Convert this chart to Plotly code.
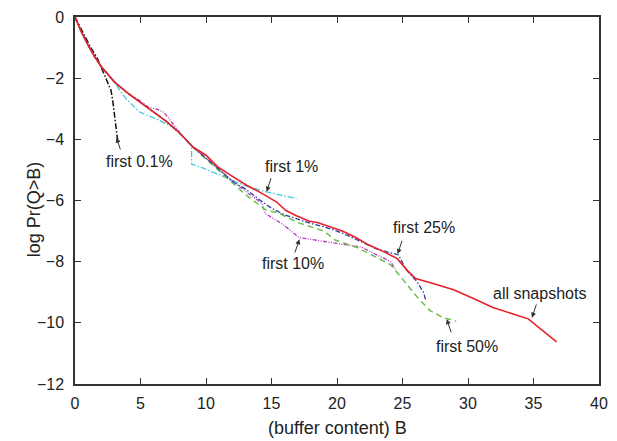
import plotly.graph_objects as go

# ---- data ----
common_x = [0, 0.5, 1, 1.5, 2, 3, 4, 5, 6, 7, 8, 9]
common_y = [0, -0.5, -0.92, -1.3, -1.62, -2.12, -2.48, -2.8, -3.1, -3.42, -3.8, -4.25]

all_x = [10, 10.9, 11.9, 13.1, 14.4, 15.4, 16.1, 16.9, 17.9, 18.5, 19.4, 20.4, 21.4, 22.4, 23.6, 24.6, 25.4, 26.0, 27.4, 28.9, 30.5, 31.9, 34.6, 36.76]
all_y = [-4.52, -4.9, -5.18, -5.5, -5.8, -6.05, -6.33, -6.5, -6.68, -6.72, -6.85, -7.0, -7.2, -7.45, -7.68, -7.9, -8.3, -8.55, -8.72, -8.92, -9.22, -9.5, -9.87, -10.62]

p25_x = [10, 11, 12, 13, 14, 15, 16, 17, 18, 19, 20, 21, 22, 23, 24, 24.7, 25.3, 26.1, 26.6, 26.8]
p25_y = [-4.62, -4.98, -5.38, -5.62, -5.95, -6.25, -6.47, -6.62, -6.75, -6.86, -7.0, -7.18, -7.38, -7.58, -7.7, -7.78, -8.28, -8.65, -9.0, -9.3]

p50_x = [10, 11, 12, 13, 14, 14.6, 15.5, 17, 19, 19.9, 21.6, 22.9, 24.1, 25.1, 26.1, 27.1, 28.1, 29.1]
p50_y = [-4.65, -5.05, -5.42, -5.8, -6.12, -6.32, -6.4, -6.72, -7.0, -7.3, -7.55, -7.85, -8.1, -8.62, -9.15, -9.6, -9.83, -9.94]

p10_x = [0, 0.5, 1, 1.5, 2, 3, 4, 5, 5.6, 6.3, 6.8, 7.3, 8, 9, 10, 11, 12, 13, 14.3, 14.5, 15.9, 17.1, 19.4, 21.9, 22.9, 24.1, 24.5]
p10_y = [0, -0.5, -0.92, -1.3, -1.62, -2.12, -2.48, -2.75, -2.95, -3.02, -3.12, -3.4, -3.78, -4.25, -4.62, -5.0, -5.35, -5.7, -6.1, -6.42, -6.79, -7.21, -7.37, -7.53, -7.75, -8.0, -8.28]

p1_x = [0, 0.5, 1, 1.5, 2, 3, 3.5, 3.9, 4.9, 6.4, 7.6, 8.75, 8.9, 8.9, 9.6, 11.4, 12.9, 14.4, 15.4, 16.9]
p1_y = [0, -0.5, -0.92, -1.3, -1.62, -2.12, -2.45, -2.67, -3.1, -3.37, -3.63, -4.17, -4.22, -4.81, -4.91, -5.23, -5.5, -5.7, -5.8, -5.93]

p01_x = [0, 0.6, 1.2, 1.7, 2.1, 2.5, 2.75, 2.9, 3.0, 3.1, 3.2, 3.25]
p01_y = [0, -0.5, -1.0, -1.35, -1.75, -2.1, -2.4, -2.8, -3.1, -3.5, -3.8, -4.02]

labels = ["first 0.1%", "first 1%", "first 10%", "first 25%", "first 50%", "all snapshots"]
label_x = [4.95, 16.54, 16.63, 26.63, 29.92, 35.44]
label_y = [-4.71, -4.9, -8.07, -6.89, -10.79, -9.03]
tip_x = [3.17, 14.63, 17.13, 24.63, 28.38, 34.88]
tip_y = [-3.95, -5.71, -7.27, -7.75, -9.88, -9.83]
tail_x = [3.5, 15.0, 16.75, 25.0, 28.75, 35.26]
tail_y = [-4.38, -5.22, -7.75, -7.27, -10.36, -9.35]

x_ticks = [0, 5, 10, 15, 20, 25, 30, 35, 40]
y_ticks = [-12, -10, -8, -6, -4, -2, 0]
x_title = "(buffer content) B"
y_title = "log Pr(Q>B)"

FONT = "Liberation Sans, Arial"
fig = go.Figure()

def add(x, y, color, dash, width=1.4):
    fig.add_trace(go.Scatter(x=x, y=y, mode="lines", line=dict(color=color, dash=dash, width=width),
                             showlegend=False, hoverinfo="skip"))

add(p01_x, p01_y, "#111111", "6px,2px,1.5px,2px", 1.5)
add(p1_x, p1_y, "#45c8d8", "6px,2px,1.5px,2px", 1.3)
add(p10_x, p10_y, "#b43cbf", "4px,1.5px,1px,1.5px,1px,1.5px", 1.3)
add(common_x + p50_x, common_y + p50_y, "#6cc04a", "6px,4px", 1.5)
add(common_x + p25_x, common_y + p25_y, "#2b3f98", "5px,2px,1.5px,2px", 1.3)
add(common_x + all_x, common_y + all_y, "#e8202a", "solid", 1.6)

for t, lx, ly in zip(labels, label_x, label_y):
    fig.add_annotation(x=lx, y=ly, text=t, showarrow=False,
                       font=dict(family=FONT, size=16, color="#222"))
for hx, hy, sx, sy in zip(tip_x, tip_y, tail_x, tail_y):
    fig.add_annotation(x=hx, y=hy, ax=sx, ay=sy, axref="x", ayref="y", text="",
                       showarrow=True, arrowhead=2, arrowsize=1, arrowwidth=1, arrowcolor="#333")

# axis titles
fig.add_annotation(xref="paper", yref="paper", x=0.5, y=-0.12, text=x_title, showarrow=False,
                   xanchor="center", yanchor="middle", font=dict(family=FONT, size=18, color="#222"))
fig.add_annotation(xref="paper", yref="paper", x=-0.079, y=0.475, text=y_title, showarrow=False,
                   textangle=-90, xanchor="center", yanchor="middle", font=dict(family=FONT, size=18, color="#222"))

axis_common = dict(showline=True, linecolor="#333", linewidth=1.5, mirror="ticks",
                   ticks="inside", ticklen=6, tickwidth=1.3, tickcolor="#333",
                   showgrid=False, zeroline=False,
                   tickfont=dict(family=FONT, size=16, color="#222"))

fig.update_xaxes(range=[0, 40], tickvals=x_ticks, ticklabelstandoff=4, **axis_common)
fig.update_yaxes(range=[-12, 0], tickvals=y_ticks, ticklabelstandoff=6, **axis_common)

fig.update_layout(width=617, height=441, margin=dict(l=75, r=9, t=10, b=57),
                  plot_bgcolor="white", paper_bgcolor="white")

fig.write_html("out.html")
